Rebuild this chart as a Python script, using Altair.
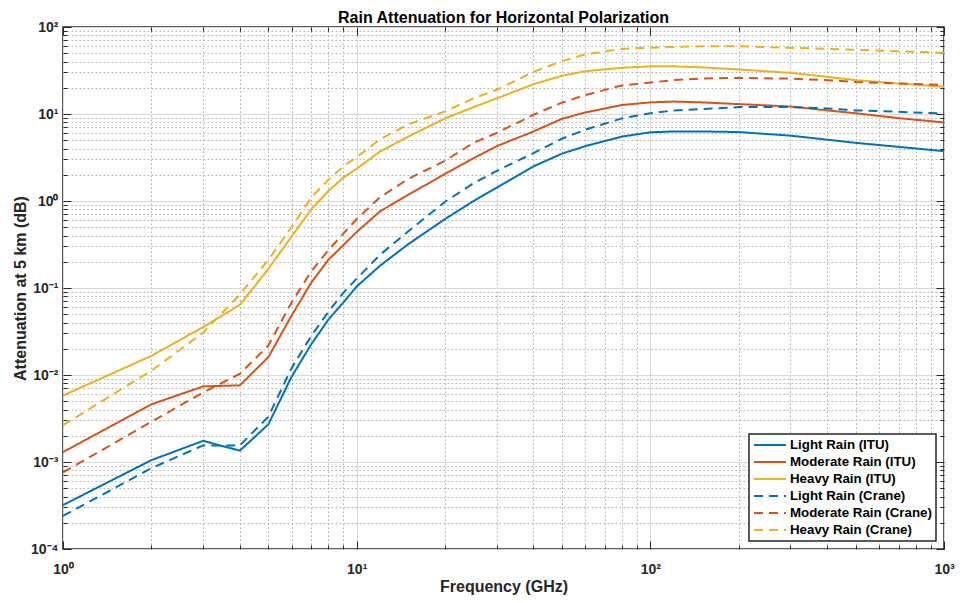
import altair as alt
import pandas as pd

# ---- data ----
FREQ = [1, 2, 3, 4, 5, 6, 7, 8, 9, 10, 12, 15, 20, 25, 30, 40, 50, 60, 80,
        100, 120, 150, 200, 300, 400, 500, 700, 1000]

light_itu = [3.2e-4, 1.05e-3, 1.75e-3, 1.35e-3, 2.7e-3, 0.0095, 0.0225, 0.043, 0.068, 0.104,
             0.18, 0.32, 0.62, 1.0, 1.43, 2.5, 3.5, 4.27, 5.5,
             6.16, 6.3, 6.3, 6.2, 5.64, 5.07, 4.66, 4.19, 3.74]
moderate_itu = [1.3e-3, 4.6e-3, 7.4e-3, 7.6e-3, 0.016, 0.048, 0.115, 0.21, 0.31, 0.44,
                0.76, 1.18, 2.05, 3.1, 4.27, 6.3, 8.8, 10.4, 12.7,
                13.6, 13.9, 13.6, 13.0, 12.2, 11.0, 10.2, 8.97, 8.0]
heavy_itu = [5.8e-3, 0.0166, 0.0355, 0.064, 0.165, 0.39, 0.8, 1.3, 1.85, 2.35,
             3.7, 5.5, 8.9, 12.0, 15.1, 22.0, 27.5, 31.0, 34.0,
             35.3, 35.3, 34.4, 32.5, 29.7, 26.7, 24.5, 22.4, 20.6]
light_crane = [2.4e-4, 8.5e-4, 1.55e-3, 1.55e-3, 3.3e-3, 0.012, 0.028, 0.053, 0.088, 0.128,
               0.24, 0.45, 0.98, 1.6, 2.22, 3.55, 5.2, 6.6, 8.9,
               10.2, 11.0, 11.4, 12.0, 12.0, 11.6, 11.0, 10.6, 10.1]
moderate_crane = [7.6e-4, 2.9e-3, 6.3e-3, 0.0103, 0.0218, 0.068, 0.155, 0.27, 0.42, 0.62,
                  1.1, 1.8, 2.9, 4.66, 6.05, 9.8, 13.5, 16.5, 21.3,
                  23.0, 24.5, 25.6, 26.0, 25.5, 24.5, 23.4, 22.4, 21.5]
heavy_crane = [2.65e-3, 0.0112, 0.0306, 0.084, 0.21, 0.5, 1.1, 1.75, 2.5, 3.2,
               5.1, 7.6, 10.7, 15.1, 19.0, 30.5, 40.5, 48.4, 56.0,
               57.7, 59.0, 60.0, 60.0, 57.7, 56.0, 54.7, 52.5, 50.6]

SERIES = ["Light Rain (ITU)", "Moderate Rain (ITU)", "Heavy Rain (ITU)",
          "Light Rain (Crane)", "Moderate Rain (Crane)", "Heavy Rain (Crane)"]
COLORS = ["#0072BD", "#D95319", "#EDB120", "#0072BD", "#D95319", "#EDB120"]
DASHES = [[1, 0], [1, 0], [1, 0], [9, 6], [9, 6], [9, 6]]

X_TICKS = [m * 10 ** e for e in range(0, 3) for m in range(1, 10)] + [1000]
Y_TICKS = [m * 10.0 ** e for e in range(-4, 2) for m in range(1, 10)] + [100]
X_LABELS = ["10\u2070", "10\u00b9", "10\u00b2", "10\u00b3"]
Y_LABELS = ["10\u207b\u2074", "10\u207b\u00b3", "10\u207b\u00b2", "10\u207b\u00b9",
            "10\u2070", "10\u00b9", "10\u00b2"]

rows = []
for name, vals in zip(SERIES, [light_itu, moderate_itu, heavy_itu,
                               light_crane, moderate_crane, heavy_crane]):
    for f, v in zip(FREQ, vals):
        rows.append({"freq": f, "atten": v, "series": name})
df = pd.DataFrame(rows)

W, H = 881, 522
FONT = "Liberation Sans"
INK = "#262626"
LOGV = "log(datum.value)/LN10"
MAJOR = f"abs({LOGV} - round({LOGV})) < 0.001"

x_scale = alt.Scale(type="log", domain=[1, 1000], nice=False)
y_scale = alt.Scale(type="log", domain=[1e-4, 100], nice=False)

grid_dash = {"condition": {"test": MAJOR, "value": []}, "value": [1.5, 2.5]}
grid_color = {"condition": {"test": MAJOR, "value": "#d9d9d9"}, "value": "#b0b0b0"}
tick_size = {"condition": {"test": MAJOR, "value": 8}, "value": 4}

x_label_expr = f"{MAJOR} ? {X_LABELS}[round({LOGV})] : ''"
y_label_expr = f"{MAJOR} ? {Y_LABELS}[round({LOGV}) + 4] : ''"

x_main = alt.Axis(orient="bottom", values=X_TICKS, title="Frequency (GHz)",
                  ticks=False, tickSize=0, domain=False, grid=True,
                  gridDash=grid_dash, gridColor=grid_color, gridWidth=1,
                  labelExpr=x_label_expr, labelOverlap=False, labelFlush=False,
                  labelPadding=13, labelFont=FONT, labelFontSize=14,
                  labelFontWeight="bold", labelColor=INK,
                  titleFont=FONT, titleFontSize=16, titleFontWeight="bold",
                  titleColor=INK, titleY=42, titleBaseline="alphabetic")
y_main = alt.Axis(orient="left", values=Y_TICKS, title="Attenuation at 5 km (dB)",
                  ticks=False, tickSize=0, domain=False, grid=True,
                  gridDash=grid_dash, gridColor=grid_color, gridWidth=1,
                  labelExpr=y_label_expr, labelOverlap=False, labelFlush=False,
                  labelPadding=5, labelFont=FONT, labelFontSize=14,
                  labelFontWeight="bold", labelColor=INK,
                  titleFont=FONT, titleFontSize=16, titleFontWeight="bold",
                  titleColor=INK, titleX=-38, titleBaseline="alphabetic")


def tick_axis(orient, values, offset):
    return alt.Axis(orient=orient, values=values, offset=offset, labels=False,
                    grid=False, domain=False, title=None, ticks=True,
                    tickSize=tick_size, tickColor=INK, tickWidth=1)


lines = alt.Chart(df).mark_line(strokeWidth=2).encode(
    x=alt.X("freq:Q", scale=x_scale, axis=x_main),
    y=alt.Y("atten:Q", scale=y_scale, axis=y_main),
    color=alt.Color("series:N", scale=alt.Scale(domain=SERIES, range=COLORS),
                    legend=alt.Legend(title=None)),
    strokeDash=alt.StrokeDash("series:N", scale=alt.Scale(domain=SERIES, range=DASHES),
                              legend=alt.Legend(title=None)),
)

# inward ticks at bottom & left edges
ticks_bl = alt.Chart(df).mark_point(opacity=0, size=1).encode(
    x=alt.X("freq:Q", scale=x_scale, axis=tick_axis("top", X_TICKS, -H)),
    y=alt.Y("atten:Q", scale=y_scale, axis=tick_axis("right", Y_TICKS, -W)),
)
# inward ticks at top & right edges
ticks_tr = alt.Chart(df).mark_point(opacity=0, size=1).encode(
    x=alt.X("freq:Q", scale=x_scale, axis=tick_axis("bottom", X_TICKS, -H)),
    y=alt.Y("atten:Q", scale=y_scale, axis=tick_axis("left", Y_TICKS, -W)),
)

chart = (
    alt.layer(lines, ticks_bl, ticks_tr)
    .resolve_axis(x="independent", y="independent")
    .properties(
        width=W, height=H,
        title=alt.Title("Rain Attenuation for Horizontal Polarization", dy=12),
        autosize=alt.AutoSizeParams(type="none"),
        padding={"left": 55, "top": 19, "right": 11, "bottom": 46},
    )
    .configure_view(stroke=INK, strokeWidth=1.5)
    .configure_title(font=FONT, fontSize=16, fontWeight="bold", color="black",
                     anchor="middle", offset=6)
    .configure_legend(orient="bottom-right", offset=8, padding=4,
                      strokeColor=INK, fillColor="white", strokeWidth=1.5,
                      symbolType="stroke", symbolSize=1024, symbolStrokeWidth=2,
                      labelFont=FONT, labelFontSize=13.3, labelFontWeight="bold",
                      labelColor="black", labelOffset=3, rowPadding=3,
                      clipHeight=14)
)

chart.save("out.html", embed_options={"renderer": "svg", "actions": False})
